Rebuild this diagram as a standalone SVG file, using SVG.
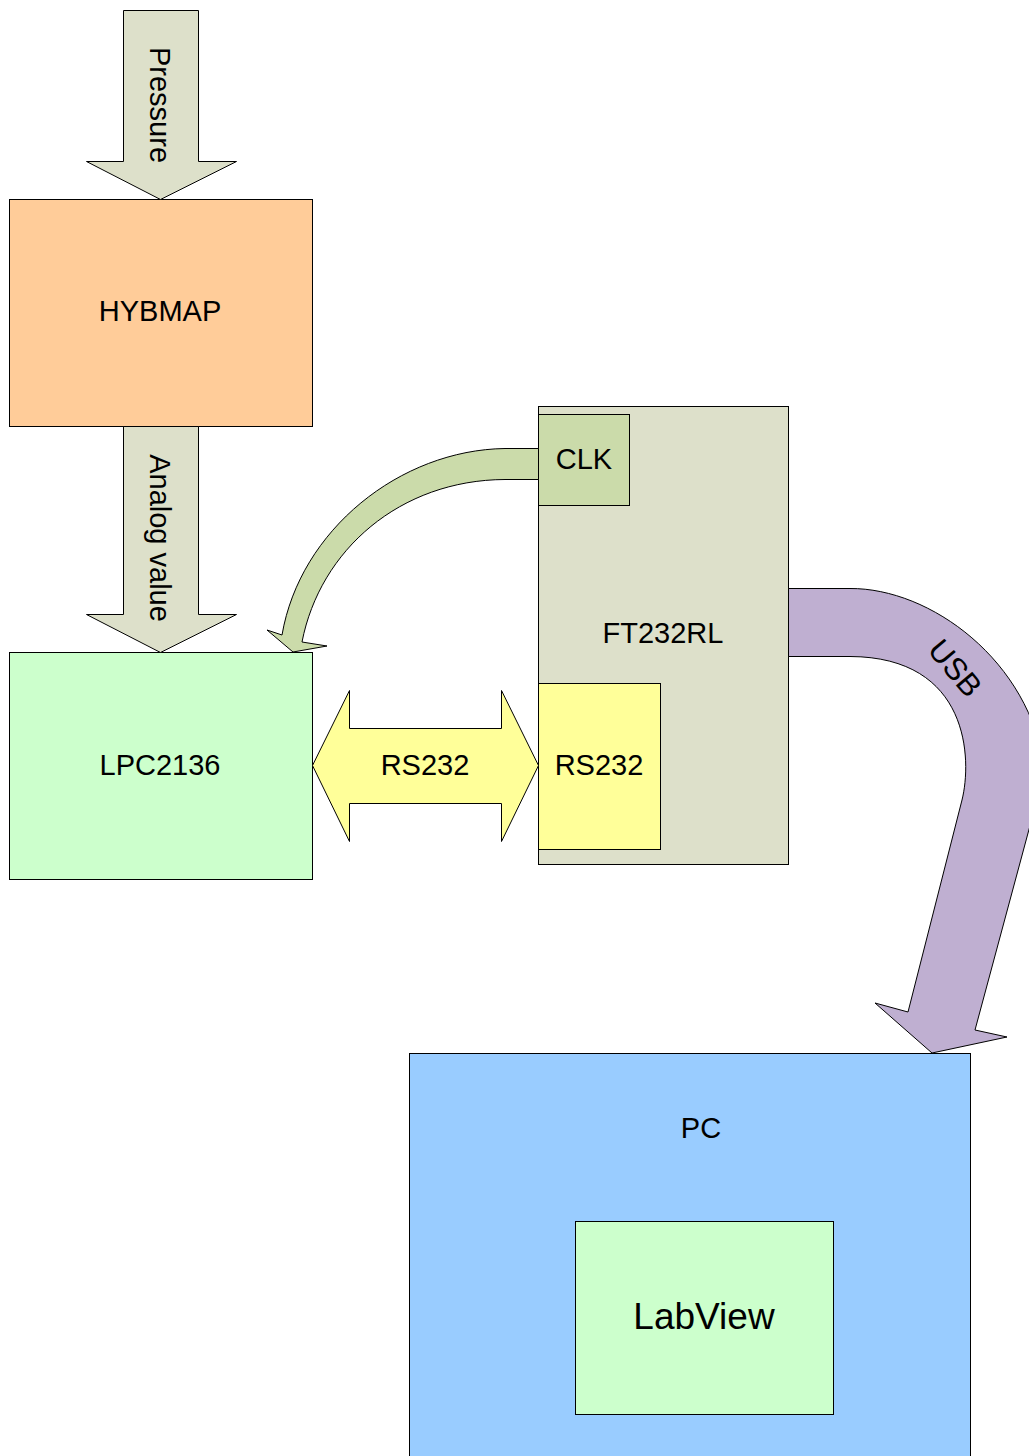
<svg xmlns="http://www.w3.org/2000/svg" width="1029" height="1456" viewBox="0 0 1029 1456">
<style>
.s{stroke:#000;stroke-width:1}
.t{font-family:"Liberation Sans",Arial,sans-serif;font-size:29px;fill:#000;text-anchor:middle}
</style>
<rect width="1029" height="1456" fill="#fff"/>
<g id="hybmap"><rect class="s" x="9.5" y="199.5" width="303" height="227" fill="#ffcc99"/><text class="t" x="160" y="321">HYBMAP</text></g>
<g id="lpc2136"><rect class="s" x="9.5" y="652.5" width="303" height="227" fill="#ccffcc"/><text class="t" x="160" y="775">LPC2136</text></g>
<g id="ft232rl"><rect class="s" x="538.5" y="406.5" width="250" height="458" fill="#dde0ca"/><text class="t" x="663" y="643">FT232RL</text></g>
<g id="clk"><rect class="s" x="538.5" y="414.5" width="91" height="91" fill="#cbdbaa"/><text class="t" x="584" y="469">CLK</text></g>
<g id="rs232box"><rect class="s" x="538.5" y="683.5" width="122" height="166" fill="#ffff99"/><text class="t" x="599" y="775">RS232</text></g>
<g id="pc"><rect class="s" x="409.5" y="1053.5" width="561" height="410" fill="#99ccff"/><text class="t" x="701" y="1138">PC</text></g>
<g id="labview"><rect class="s" x="575.5" y="1221.5" width="258" height="193" fill="#ccffcc"/><text class="t" x="704" y="1329" style="font-size:37px">LabView</text></g>
<g id="connectors">
<g id="pressure"><path class="s" d="M123.5,10.5 H198.5 V161.5 H236.5 L160.5,199.5 L86.5,161.5 H123.5 Z" fill="#dde0ca"/><text class="t" transform="translate(150,105) rotate(90)">Pressure</text></g>
<g id="analog"><path class="s" d="M123.5,426.5 H198.5 V614.5 H236.5 L160.5,652.5 L86.5,614.5 H123.5 Z" fill="#dde0ca"/><text class="t" transform="translate(150,538) rotate(90)">Analog value</text></g>
<g id="rs232arrow"><path class="s" d="M312.5,765.5 L349.5,690.5 V728.5 H501.5 V690.5 L538.5,765.5 L501.5,841.5 V803.5 H349.5 V841.5 Z" fill="#ffff99"/><text class="t" x="425" y="775">RS232</text></g>
<g id="clkarrow"><path class="s" d="M538.5,448.5 L505,448.5 C400,450 300,530 282,635 L267,630 L293,652 L327,646 L302,642 C320,550 400,480 505,479.5 L538.5,479.5 Z" fill="#cbdbaa"/></g>
<g id="usb"><path class="s" d="M788.5,588.5 L850,588.5 C930,588 1030,660 1045,770 L975,1030 L1007,1037 L932,1053 L875,1003 L908,1012 L962,800 C972,760 970,657 850,656.5 L788.5,656.5 Z" fill="#bfafd1"/><text class="t" transform="translate(947,675) rotate(50)" style="font-size:31px">USB</text></g>
</g>
</svg>
